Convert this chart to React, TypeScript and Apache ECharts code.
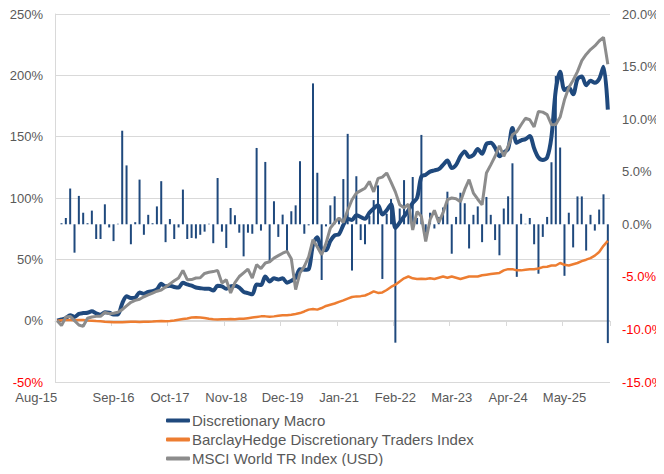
import React, { useEffect, useRef } from "react";
import * as echarts from "echarts";

const MONTH_NAMES = ["Jan","Feb","Mar","Apr","May","Jun","Jul","Aug","Sep","Oct","Nov","Dec"];
const START_MONTH = 7; // Aug
const START_YEAR = 15;
const N_MONTHS = 128;
const categories: string[] = [];
for (let k = 0; k < N_MONTHS; k++) {
  const m = (START_MONTH + k) % 12;
  const y = START_YEAR + Math.floor((START_MONTH + k) / 12);
  categories.push(`${MONTH_NAMES[m]}-${y}`);
}

// Monthly returns of Discretionary Macro (%), right axis
const monthlyReturns = [
  0, 0.1, 0.6, 3.4, -2.7, 2.7, 1.1, 0.1, 1.3, -1.4,
  -1.4, 1.9, -0.3, -1.6, 0.05, 8.9, 5.6, -1.9, 0.2, 4.25,
  -1.0, 0.9, 0.1, 1.7, 4.1, -1.7, 0.5, -1.4, -0.3, 3.3,
  -1.4, -1.3, -1.35, -1.0, -0.7, 0.05, -1.8, 4.4, -0.7, -2.25,
  1.55, 0.86, -0.8, -3.05, -0.8, -0.9, 7.26, -0.6, 5.93, -3.65,
  2.19, -1.2, 0.92, -2.7, 1.24, 1.8, 6.0, -0.9, -0.1, 13.4,
  4.9, -5.3, -0.2, 1.8, 2.66, 0.5, 4.3, 8.6, -4.4, 4.57,
  -1.5, -1.9, 0.8, 2.3, 3.7, -5.2, 1.0, 2.4, -11.26, 1.5,
  4.2, 1.2, 4.5, 0.6, 8.5, -0.8, 1.1, -0.4, 0.7, 1.6,
  3.1, -2.8, 0.7, 3.0, 2.0, -2.3, 0.9, 1.7, -1.7, 2.6,
  0.9, -1.5, -2.95, 1.5, 2.66, 5.8, -5.0, 1.0, 0.05, 0.6,
  -1.9, -4.7, -1.2, 0.7, 5.9, 14.1, 7.3, -4.9, 1.1, -2.2,
  2.65, 2.65, -2.5, 0.9, -0.6, 1.4, 2.85, -11.3,
];

// Cumulative returns (%), left axis
const discretionaryMacro = [
  0, 1, 2, 4.5, 3, 5.5, 6.2, 6.5, 7.6, 6,
  4.9, 6.8, 6.5, 5, 5, 14, 20, 18.5, 18.8, 23,
  22, 23.5, 24, 25.5, 30, 28, 28.5, 27.5, 27, 31,
  29.5, 28.5, 27, 26.5, 26, 26, 24.5, 28.5, 28, 26,
  28, 28.5, 27, 23.5, 22.5, 21.5, 29.5, 29, 36, 32,
  34.5, 33.5, 34.5, 31, 32.5, 35, 42, 41.5, 42, 62,
  68, 58, 57.5, 65, 69.5, 70.5, 78, 83, 82, 86,
  84.5, 83, 88, 91.5, 94, 86.5, 90, 95, 75.5, 80,
  85, 90, 96, 100, 117.5, 119, 121.5, 122.5, 123.5, 127,
  130.5, 124.5, 127, 134, 138, 133.5, 135, 140, 136, 144,
  145, 141, 134, 137, 140, 157, 145, 147, 148, 150.5,
  140.5, 133, 131, 133, 150, 188, 203, 188, 190, 184.5,
  197, 199, 192, 195.5, 194, 197, 207, 172,
];

const barclayHedge = [
  0, 0.3, 0.5, 0.6, 0.4, 0.6, 0.5, 0.2, 0, -0.3,
  -0.5, -0.8, -1.0, -1.2, -1.3, -1.2, -1.0, -0.8, -0.9, -1.0,
  -0.9, -0.8, -0.7, -0.5, -0.3, -0.4, -0.2, 0.2, 0.8, 1.3,
  1.8, 2.5, 2.7, 2.5, 2.2, 1.5, 1.2, 1.0, 1.1, 1.2,
  1.3, 1.2, 1.5, 1.5, 2.0, 2.5, 3.0, 3.5, 3.5, 3.2,
  3.5, 4.0, 4.5, 4.5, 4.9, 5.5, 6.2, 7.5, 9, 9.5,
  9, 10.3, 12, 13, 14, 15.3, 16.5, 18, 19.3, 19.8,
  20, 20.5, 22, 23.9, 22.6, 23, 25, 27.5, 29.3, 32,
  34.5, 36, 34.5, 34, 34.2, 34, 34.5, 34, 35, 36,
  35, 36, 35, 34, 35, 36, 36, 36, 37, 37.5,
  38, 38.5, 38.9, 41, 42, 42, 41, 41, 41.5, 42,
  42, 42.5, 43.7, 44, 45, 45, 47, 45.5, 45, 46,
  47, 48.5, 49.7, 51, 53, 56, 61, 65,
];

const msciWorld = [
  0, -4, 3, 3.5, 0, -3.5, -4.6, 2, 3, 3.5,
  3.5, 6.8, 5.7, 6, 6.8, 9, 12, 15, 16.5, 17.5,
  19.5, 21, 22.5, 24, 25, 27.5, 30, 32.5, 34.8, 41,
  33.4, 33.5, 34.8, 35, 38.5, 39.5, 40, 41, 30.7, 33.4,
  22.6, 31, 36, 39, 42, 34.8, 45.6, 42.5, 47, 48,
  51, 53, 55, 56.5, 50.5, 25.3, 38.9, 44.3, 52, 66,
  60, 53.8, 63, 75.5, 80, 83.7, 80, 90, 98.6, 104,
  106, 108, 113.5, 105, 116, 117, 120.4, 113, 105, 94.5,
  92, 95, 74, 89, 85, 64.6, 82.3, 90, 80, 88,
  98.6, 100, 99.4, 97, 107, 115, 104, 99, 94.5, 120.4,
  127, 134, 142.6, 134, 142, 151.6, 154, 159.7, 165, 163.8,
  158, 170.6, 170, 168, 159.7, 160, 166, 180, 190, 196,
  203, 212, 217, 221, 224, 228, 231, 209,
];

const seriesNames = [
  "Discretionary Macro",
  "BarclayHedge Discretionary Traders Index",
  "MSCI World TR Index (USD)",
];

const FONT = "'Liberation Sans', Arial, sans-serif";
const GREY_TEXT = "#595959";
const NEG_TEXT = "#FF0000";
const GRID_COLOR = "#D9D9D9";
const BLUE = "#1F497D";
const ORANGE = "#ED7D31";
const GREY = "#8C8C8C";

export default function App() {
  const ref = useRef<HTMLDivElement>(null);
  useEffect(() => {
    if (!ref.current) return;
    const chart = echarts.init(ref.current, null, { renderer: "svg" });
    chart.setOption({
      animation: false,
      textStyle: { fontFamily: FONT },
      grid: { left: 55, right: 54, top: 14, bottom: 92, containLabel: false, outerBoundsMode: "none" },
      legend: {
        orient: "vertical",
        left: 166,
        top: 413,
        height: 60,
        padding: 0,
        itemWidth: 24,
        itemHeight: 4,
        itemGap: 4,
        icon: "roundRect",
        data: seriesNames,
        textStyle: { color: GREY_TEXT, fontSize: 15, fontFamily: FONT, padding: [0, 0, 0, -3] },
      },
      xAxis: [
        {
          type: "category",
          data: categories,
          boundaryGap: true,
          position: "bottom",
          axisLine: { show: false, onZero: false },
          axisTick: { show: false },
          axisLabel: {
            interval: 12,
            margin: 9,
            color: GREY_TEXT,
            fontSize: 13,
            fontFamily: FONT,
            alignMinLabel: "right",
          },
          splitLine: { show: false },
        },
        {
          type: "category",
          data: categories,
          boundaryGap: true,
          position: "bottom",
          offset: -61,
          axisLine: { show: true, onZero: false, lineStyle: { color: GRID_COLOR, width: 1 } },
          axisTick: { show: true, interval: 12, length: 5, lineStyle: { color: GRID_COLOR } },
          axisLabel: { show: false },
          splitLine: { show: false },
        },
      ],
      yAxis: [
        {
          type: "value",
          min: -50,
          max: 250,
          interval: 50,
          axisLine: { show: true, onZero: false, lineStyle: { color: GRID_COLOR } },
          axisTick: { show: false },
          splitLine: { show: true, lineStyle: { color: GRID_COLOR, width: 1 } },
          axisLabel: {
            margin: 12,
            fontSize: 13,
            fontFamily: FONT,
            formatter: (v: number) => `${v}%`,
            color: (v: any) => (parseFloat(v) < 0 ? NEG_TEXT : GREY_TEXT),
          },
        },
        {
          type: "value",
          min: -15,
          max: 20,
          interval: 5,
          position: "right",
          axisLine: { show: false, onZero: false },
          axisTick: { show: false },
          splitLine: { show: false },
          axisLabel: {
            margin: 12,
            fontSize: 13,
            fontFamily: FONT,
            formatter: (v: number) => `${v.toFixed(1)}%`,
            color: (v: any) => (parseFloat(v) < 0 ? NEG_TEXT : GREY_TEXT),
          },
        },
      ],
      series: [
        {
          name: "Monthly return",
          type: "bar",
          xAxisIndex: 0,
          yAxisIndex: 1,
          data: monthlyReturns,
          barWidth: 2,
          itemStyle: { color: BLUE },
        },
        {
          name: seriesNames[0],
          type: "line",
          xAxisIndex: 0,
          yAxisIndex: 0,
          data: discretionaryMacro,
          symbol: "none",
          smooth: 0.3,
          lineStyle: { color: BLUE, width: 4 },
          itemStyle: { color: BLUE },
        },
        {
          name: seriesNames[1],
          type: "line",
          xAxisIndex: 0,
          yAxisIndex: 0,
          data: barclayHedge,
          symbol: "none",
          lineStyle: { color: ORANGE, width: 2.5 },
          itemStyle: { color: ORANGE },
        },
        {
          name: seriesNames[2],
          type: "line",
          xAxisIndex: 0,
          yAxisIndex: 0,
          data: msciWorld,
          symbol: "none",
          lineStyle: { color: GREY, width: 3 },
          itemStyle: { color: GREY },
        },
      ],
    });
    return () => chart.dispose();
  }, []);
  return <div ref={ref} style={{ width: 664, height: 474, margin: -8 }} />;
}
